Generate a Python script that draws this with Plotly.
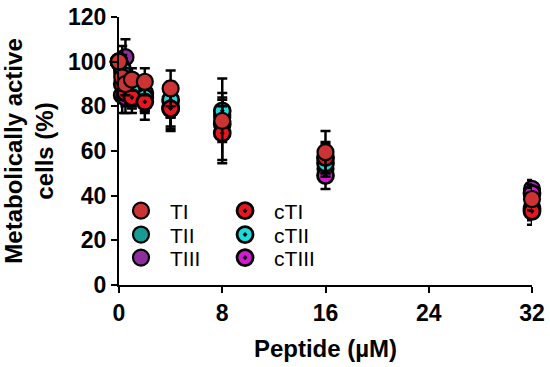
import plotly.graph_objects as go

conc = [0, 0.25, 0.5, 1, 2, 4, 8, 16, 32]

series_names = ["TI", "TII", "TIII", "cTI", "cTII", "cTIII"]
TI = [100, 93, 90, 92, 91, 88, 73.5, 59.5, 38.5]
TII = [100, 95, 92, 88, 85, 82, 75, 57, 35]
TIII = [100, 97, 102, 86, 84, 80, 76, 52, 43]
cTI = [100, 90, 86, 84, 82, 79, 68, 57, 33]
cTII = [100, 97, 90, 87, 84, 83, 78, 54.5, 34]
cTIII = [100, 85, 84, 85, 86, 79, 72, 49, 41]

TI_err = [0, 6, 5, 5, 6, 8, 19, 9.5, 5]
TII_err = [0, 8, 6, 6, 7, 7, 9, 6, 4]
TIII_err = [0, 7, 8, 6, 6, 9, 7, 5, 4]
cTI_err = [0, 7, 6, 7, 8, 10, 12, 7, 6]
cTII_err = [0, 10, 7, 6, 7, 8, 8, 6, 5]
cTIII_err = [0, 8, 7, 6, 6, 9, 8, 6, 4]

values = {"TI": TI, "TII": TII, "TIII": TIII, "cTI": cTI, "cTII": cTII, "cTIII": cTIII}
errors = {"TI": TI_err, "TII": TII_err, "TIII": TIII_err,
          "cTI": cTI_err, "cTII": cTII_err, "cTIII": cTIII_err}
colors = {"TI": "#CC3333", "TII": "#169C94", "TIII": "#8E2E9E",
          "cTI": "#E8161E", "cTII": "#1ADCDC", "cTIII": "#D21AD2"}

draw_order = ["TIII", "TII", "cTIII", "cTII", "cTI", "TI"]

# legend slot (paper coords) for each series: two columns x three rows
legend_x = {"TI": -0.017, "TII": -0.017, "TIII": -0.017,
            "cTI": 0.235, "cTII": 0.235, "cTIII": 0.235}
legend_y = {"TI": 0.276, "TII": 0.187, "TIII": 0.101,
            "cTI": 0.276, "cTII": 0.187, "cTIII": 0.101}

leg_font = dict(family="Arial", size=21, color="black")

fig = go.Figure()
layout_legends = {}
for i, name in enumerate(series_names):
    key = "legend" if i == 0 else f"legend{i + 1}"
    layout_legends[key] = dict(x=legend_x[name], y=legend_y[name], xanchor="left", yanchor="middle",
                               bgcolor="rgba(0,0,0,0)", font=leg_font, itemwidth=48)

for name in draw_order:
    is_open = name.startswith("c")
    idx = series_names.index(name)
    fig.add_trace(go.Scatter(
        x=conc, y=values[name], name=name, mode="markers", showlegend=True,
        marker=dict(symbol="circle-dot" if is_open else "circle", size=16,
                    color=colors[name], line=dict(color="black", width=2.8 if is_open else 2.2)),
        error_y=dict(type="data", array=errors[name], color="black", thickness=2.5, width=5),
        cliponaxis=False,
        legend="legend" if idx == 0 else f"legend{idx + 1}",
    ))

tick_font = dict(family="Arial", size=23, color="black", weight="bold")
title_font = dict(family="Arial", size=24, color="black", weight="bold")
fig.update_layout(
    width=550, height=367, showlegend=True,
    margin=dict(l=119, r=18, t=17, b=82),
    plot_bgcolor="white", paper_bgcolor="white",
    font=dict(family="Arial", color="black"),
    xaxis=dict(range=[0, 32], tickvals=[0, 8, 16, 24, 32], showgrid=False, zeroline=False,
               showline=True, linecolor="black", linewidth=2, ticks="outside", ticklen=6,
               tickwidth=2, tickcolor="black", tickfont=tick_font, automargin=False,
               ticklabeloverflow="allow",
               title=dict(text="Peptide (µM)", font=title_font, standoff=16)),
    yaxis=dict(range=[0, 120], tickvals=[0, 20, 40, 60, 80, 100, 120], showgrid=False, zeroline=False,
               showline=True, linecolor="black", linewidth=2, ticks="outside", ticklen=6,
               tickwidth=2, tickcolor="black", tickfont=tick_font, automargin=False,
               ticklabeloverflow="allow",
               title=dict(text="Metabolically active<br>cells (%)", font=title_font, standoff=24)),
    **layout_legends,
)

fig.write_html("out.html", config={"displayModeBar": False},
               post_script="document.body.style.margin='0';")
